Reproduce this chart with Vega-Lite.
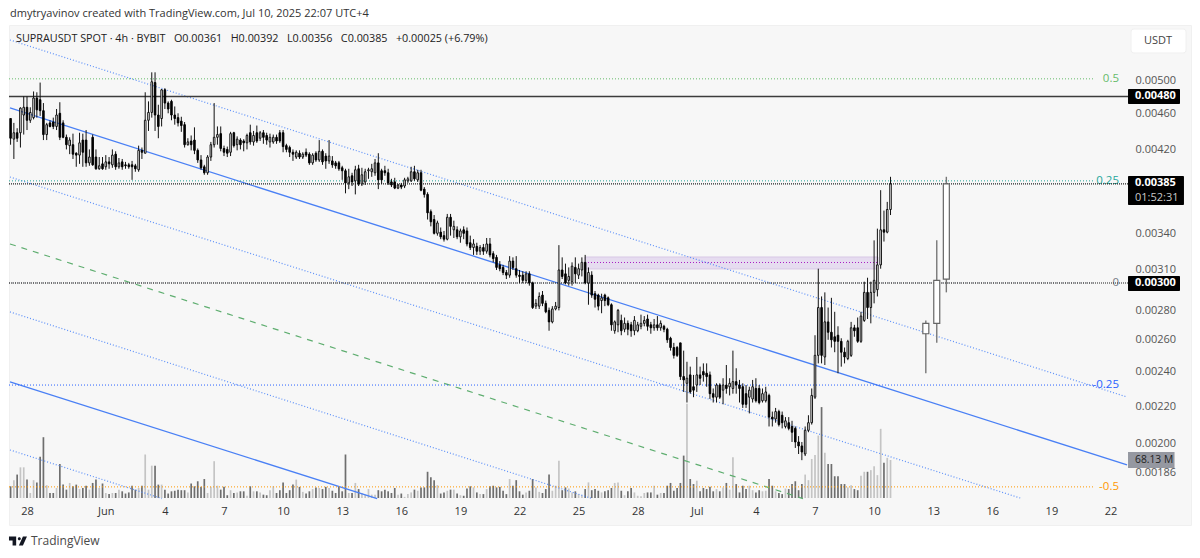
{"$schema":"https://vega.github.io/schema/vega-lite/v6.json","width":1182,"height":500,"autosize":"none","padding":{"left":9,"top":25,"right":9,"bottom":33},"background":"#ffffff","config":{"view":{"fill":"#f7f7f7","stroke":"#f0f0f0"},"font":"Open Sans"},
"datasets":{"candles":[
{"t":"2025-05-27T04:00Z","o":0.00454,"h":0.00454,"l":0.00425,"c":0.00432,"v":21},
{"t":"2025-05-27T08:00Z","o":0.00431,"h":0.00449,"l":0.0041,"c":0.00438,"v":32},
{"t":"2025-05-27T12:00Z","o":0.00438,"h":0.00443,"l":0.00428,"c":0.00432,"v":42},
{"t":"2025-05-27T16:00Z","o":0.00438,"h":0.00467,"l":0.00422,"c":0.00466,"v":55},
{"t":"2025-05-27T20:00Z","o":0.00458,"h":0.0048,"l":0.00436,"c":0.00467,"v":55},
{"t":"2025-05-28T00:00Z","o":0.00467,"h":0.0048,"l":0.00441,"c":0.00452,"v":33},
{"t":"2025-05-28T04:00Z","o":0.00452,"h":0.00467,"l":0.00449,"c":0.00461,"v":9},
{"t":"2025-05-28T08:00Z","o":0.00455,"h":0.00486,"l":0.00453,"c":0.00478,"v":32},
{"t":"2025-05-28T12:00Z","o":0.00478,"h":0.00485,"l":0.00455,"c":0.00464,"v":28},
{"t":"2025-05-28T16:00Z","o":0.00476,"h":0.00497,"l":0.00457,"c":0.00463,"v":74},
{"t":"2025-05-28T20:00Z","o":0.00463,"h":0.00472,"l":0.0043,"c":0.00436,"v":109},
{"t":"2025-05-29T00:00Z","o":0.00436,"h":0.00449,"l":0.0043,"c":0.00447,"v":23},
{"t":"2025-05-29T04:00Z","o":0.00449,"h":0.00452,"l":0.00444,"c":0.00445,"v":9},
{"t":"2025-05-29T08:00Z","o":0.0045,"h":0.00455,"l":0.00442,"c":0.00445,"v":9},
{"t":"2025-05-29T12:00Z","o":0.00445,"h":0.00465,"l":0.00441,"c":0.00458,"v":18},
{"t":"2025-05-29T16:00Z","o":0.0046,"h":0.00473,"l":0.0043,"c":0.00433,"v":61},
{"t":"2025-05-29T20:00Z","o":0.00449,"h":0.00452,"l":0.00432,"c":0.00433,"v":24},
{"t":"2025-05-30T00:00Z","o":0.00433,"h":0.00436,"l":0.0042,"c":0.00425,"v":15},
{"t":"2025-05-30T04:00Z","o":0.00424,"h":0.00433,"l":0.00415,"c":0.0043,"v":27},
{"t":"2025-05-30T08:00Z","o":0.00425,"h":0.00437,"l":0.0041,"c":0.00415,"v":21},
{"t":"2025-05-30T12:00Z","o":0.00416,"h":0.00417,"l":0.00402,"c":0.00414,"v":24},
{"t":"2025-05-30T16:00Z","o":0.00414,"h":0.00438,"l":0.00405,"c":0.00427,"v":16},
{"t":"2025-05-30T20:00Z","o":0.0043,"h":0.00437,"l":0.00402,"c":0.00417,"v":18},
{"t":"2025-05-31T00:00Z","o":0.0043,"h":0.00441,"l":0.00402,"c":0.00406,"v":22},
{"t":"2025-05-31T04:00Z","o":0.00406,"h":0.0042,"l":0.00403,"c":0.00412,"v":15},
{"t":"2025-05-31T08:00Z","o":0.00433,"h":0.00436,"l":0.00403,"c":0.00404,"v":27},
{"t":"2025-05-31T12:00Z","o":0.00412,"h":0.0042,"l":0.00399,"c":0.004,"v":33},
{"t":"2025-05-31T16:00Z","o":0.004,"h":0.00412,"l":0.00399,"c":0.00403,"v":18},
{"t":"2025-05-31T20:00Z","o":0.00405,"h":0.00412,"l":0.00399,"c":0.004,"v":26},
{"t":"2025-06-01T00:00Z","o":0.00402,"h":0.00414,"l":0.00399,"c":0.00407,"v":9},
{"t":"2025-06-01T04:00Z","o":0.00407,"h":0.00412,"l":0.004,"c":0.00405,"v":7},
{"t":"2025-06-01T08:00Z","o":0.00404,"h":0.0042,"l":0.00401,"c":0.00414,"v":9},
{"t":"2025-06-01T12:00Z","o":0.00415,"h":0.00418,"l":0.00399,"c":0.00402,"v":9},
{"t":"2025-06-01T16:00Z","o":0.00402,"h":0.00411,"l":0.004,"c":0.00406,"v":15},
{"t":"2025-06-01T20:00Z","o":0.00407,"h":0.0041,"l":0.00399,"c":0.00402,"v":12},
{"t":"2025-06-02T00:00Z","o":0.00404,"h":0.00407,"l":0.004,"c":0.00403,"v":8},
{"t":"2025-06-02T04:00Z","o":0.00404,"h":0.00406,"l":0.004,"c":0.00402,"v":10},
{"t":"2025-06-02T08:00Z","o":0.00404,"h":0.00408,"l":0.00389,"c":0.00402,"v":22},
{"t":"2025-06-02T12:00Z","o":0.00403,"h":0.00405,"l":0.00397,"c":0.004,"v":15},
{"t":"2025-06-02T16:00Z","o":0.00399,"h":0.00424,"l":0.00397,"c":0.00419,"v":18},
{"t":"2025-06-02T20:00Z","o":0.00419,"h":0.00422,"l":0.0041,"c":0.00417,"v":22},
{"t":"2025-06-03T00:00Z","o":0.00416,"h":0.00485,"l":0.00416,"c":0.00452,"v":78},
{"t":"2025-06-03T04:00Z","o":0.00452,"h":0.00474,"l":0.0044,"c":0.00461,"v":15},
{"t":"2025-06-03T08:00Z","o":0.00461,"h":0.0051,"l":0.00455,"c":0.00498,"v":58},
{"t":"2025-06-03T12:00Z","o":0.00497,"h":0.0051,"l":0.0044,"c":0.00458,"v":58},
{"t":"2025-06-03T16:00Z","o":0.00458,"h":0.0047,"l":0.00432,"c":0.00445,"v":24},
{"t":"2025-06-03T20:00Z","o":0.00454,"h":0.00489,"l":0.00445,"c":0.00488,"v":24},
{"t":"2025-06-04T00:00Z","o":0.00488,"h":0.0049,"l":0.00465,"c":0.00472,"v":15},
{"t":"2025-06-04T04:00Z","o":0.00472,"h":0.00474,"l":0.0046,"c":0.00465,"v":8},
{"t":"2025-06-04T08:00Z","o":0.00474,"h":0.00476,"l":0.00452,"c":0.00458,"v":12},
{"t":"2025-06-04T12:00Z","o":0.00458,"h":0.00468,"l":0.00447,"c":0.00454,"v":13},
{"t":"2025-06-04T16:00Z","o":0.00455,"h":0.0046,"l":0.00445,"c":0.00449,"v":15},
{"t":"2025-06-04T20:00Z","o":0.00451,"h":0.00456,"l":0.00439,"c":0.00446,"v":14},
{"t":"2025-06-05T00:00Z","o":0.00447,"h":0.0045,"l":0.00422,"c":0.00425,"v":14},
{"t":"2025-06-05T04:00Z","o":0.00425,"h":0.00432,"l":0.00424,"c":0.00428,"v":10},
{"t":"2025-06-05T08:00Z","o":0.00429,"h":0.00435,"l":0.00419,"c":0.00425,"v":26},
{"t":"2025-06-05T12:00Z","o":0.0043,"h":0.00444,"l":0.00415,"c":0.00419,"v":21},
{"t":"2025-06-05T16:00Z","o":0.00419,"h":0.00421,"l":0.00406,"c":0.00409,"v":30},
{"t":"2025-06-05T20:00Z","o":0.00409,"h":0.00414,"l":0.00399,"c":0.00401,"v":20},
{"t":"2025-06-06T00:00Z","o":0.00402,"h":0.00404,"l":0.00394,"c":0.00396,"v":34},
{"t":"2025-06-06T04:00Z","o":0.00396,"h":0.00414,"l":0.00394,"c":0.00412,"v":9},
{"t":"2025-06-06T08:00Z","o":0.00412,"h":0.00428,"l":0.00408,"c":0.00425,"v":20},
{"t":"2025-06-06T12:00Z","o":0.00425,"h":0.00472,"l":0.00422,"c":0.00433,"v":66},
{"t":"2025-06-06T16:00Z","o":0.00433,"h":0.00445,"l":0.00425,"c":0.00436,"v":22},
{"t":"2025-06-06T20:00Z","o":0.00437,"h":0.00445,"l":0.00418,"c":0.00421,"v":15},
{"t":"2025-06-07T00:00Z","o":0.00421,"h":0.00424,"l":0.00413,"c":0.00417,"v":20},
{"t":"2025-06-07T04:00Z","o":0.0042,"h":0.00423,"l":0.00412,"c":0.00416,"v":5},
{"t":"2025-06-07T08:00Z","o":0.00417,"h":0.00439,"l":0.00413,"c":0.00437,"v":14},
{"t":"2025-06-07T12:00Z","o":0.00438,"h":0.00439,"l":0.00422,"c":0.00424,"v":9},
{"t":"2025-06-07T16:00Z","o":0.00425,"h":0.00434,"l":0.00419,"c":0.00431,"v":10},
{"t":"2025-06-07T20:00Z","o":0.0043,"h":0.00432,"l":0.0042,"c":0.00425,"v":12},
{"t":"2025-06-08T00:00Z","o":0.00429,"h":0.00431,"l":0.00418,"c":0.00427,"v":12},
{"t":"2025-06-08T04:00Z","o":0.00427,"h":0.00437,"l":0.0042,"c":0.00435,"v":4},
{"t":"2025-06-08T08:00Z","o":0.00438,"h":0.00447,"l":0.00425,"c":0.00428,"v":21},
{"t":"2025-06-08T12:00Z","o":0.00428,"h":0.0044,"l":0.00424,"c":0.00435,"v":12},
{"t":"2025-06-08T16:00Z","o":0.00438,"h":0.00446,"l":0.00427,"c":0.00429,"v":12},
{"t":"2025-06-08T20:00Z","o":0.00432,"h":0.0044,"l":0.00429,"c":0.00438,"v":10},
{"t":"2025-06-09T00:00Z","o":0.00438,"h":0.00441,"l":0.00426,"c":0.00433,"v":6},
{"t":"2025-06-09T04:00Z","o":0.00435,"h":0.00438,"l":0.00425,"c":0.0043,"v":5},
{"t":"2025-06-09T08:00Z","o":0.00428,"h":0.00437,"l":0.00422,"c":0.00433,"v":14},
{"t":"2025-06-09T12:00Z","o":0.00428,"h":0.00436,"l":0.00426,"c":0.00433,"v":21},
{"t":"2025-06-09T16:00Z","o":0.00433,"h":0.00436,"l":0.00426,"c":0.00429,"v":9},
{"t":"2025-06-09T20:00Z","o":0.00438,"h":0.00441,"l":0.00427,"c":0.00429,"v":14},
{"t":"2025-06-10T00:00Z","o":0.00438,"h":0.00441,"l":0.00417,"c":0.00423,"v":28},
{"t":"2025-06-10T04:00Z","o":0.00424,"h":0.00426,"l":0.00417,"c":0.0042,"v":9},
{"t":"2025-06-10T08:00Z","o":0.00422,"h":0.00424,"l":0.00412,"c":0.00417,"v":14},
{"t":"2025-06-10T12:00Z","o":0.00417,"h":0.0042,"l":0.00408,"c":0.00415,"v":24},
{"t":"2025-06-10T16:00Z","o":0.00412,"h":0.00419,"l":0.0041,"c":0.00417,"v":33},
{"t":"2025-06-10T20:00Z","o":0.00416,"h":0.00419,"l":0.0041,"c":0.00412,"v":20},
{"t":"2025-06-11T00:00Z","o":0.00412,"h":0.00417,"l":0.0041,"c":0.00415,"v":11},
{"t":"2025-06-11T04:00Z","o":0.00417,"h":0.00421,"l":0.00412,"c":0.00414,"v":8},
{"t":"2025-06-11T08:00Z","o":0.00415,"h":0.00417,"l":0.00404,"c":0.00406,"v":12},
{"t":"2025-06-11T12:00Z","o":0.00406,"h":0.00416,"l":0.00404,"c":0.00414,"v":16},
{"t":"2025-06-11T16:00Z","o":0.00416,"h":0.00418,"l":0.00407,"c":0.00409,"v":19},
{"t":"2025-06-11T20:00Z","o":0.00409,"h":0.0043,"l":0.00407,"c":0.00418,"v":18},
{"t":"2025-06-12T00:00Z","o":0.00418,"h":0.0042,"l":0.00404,"c":0.00407,"v":16},
{"t":"2025-06-12T04:00Z","o":0.00413,"h":0.00416,"l":0.004,"c":0.00408,"v":20},
{"t":"2025-06-12T08:00Z","o":0.00408,"h":0.0043,"l":0.00405,"c":0.00413,"v":18},
{"t":"2025-06-12T12:00Z","o":0.00408,"h":0.00413,"l":0.00401,"c":0.00404,"v":13},
{"t":"2025-06-12T16:00Z","o":0.00406,"h":0.00408,"l":0.004,"c":0.00403,"v":9},
{"t":"2025-06-12T20:00Z","o":0.00406,"h":0.00408,"l":0.00398,"c":0.004,"v":20},
{"t":"2025-06-13T00:00Z","o":0.00401,"h":0.00403,"l":0.00389,"c":0.00398,"v":12},
{"t":"2025-06-13T04:00Z","o":0.00398,"h":0.004,"l":0.00376,"c":0.00386,"v":78},
{"t":"2025-06-13T08:00Z","o":0.00386,"h":0.004,"l":0.0038,"c":0.00392,"v":9},
{"t":"2025-06-13T12:00Z","o":0.00393,"h":0.00396,"l":0.00383,"c":0.00387,"v":9},
{"t":"2025-06-13T16:00Z","o":0.00388,"h":0.00403,"l":0.00375,"c":0.00399,"v":27},
{"t":"2025-06-13T20:00Z","o":0.004,"h":0.00404,"l":0.00383,"c":0.00385,"v":16},
{"t":"2025-06-14T00:00Z","o":0.00385,"h":0.00401,"l":0.00383,"c":0.00394,"v":9},
{"t":"2025-06-14T04:00Z","o":0.00387,"h":0.004,"l":0.00384,"c":0.00397,"v":6},
{"t":"2025-06-14T08:00Z","o":0.00398,"h":0.00401,"l":0.0039,"c":0.00399,"v":16},
{"t":"2025-06-14T12:00Z","o":0.00397,"h":0.00405,"l":0.00392,"c":0.004,"v":6},
{"t":"2025-06-14T16:00Z","o":0.00396,"h":0.0041,"l":0.00393,"c":0.00406,"v":6},
{"t":"2025-06-14T20:00Z","o":0.00406,"h":0.00416,"l":0.0038,"c":0.00389,"v":14},
{"t":"2025-06-15T00:00Z","o":0.00398,"h":0.004,"l":0.00385,"c":0.00389,"v":12},
{"t":"2025-06-15T04:00Z","o":0.00398,"h":0.00403,"l":0.00393,"c":0.00396,"v":15},
{"t":"2025-06-15T08:00Z","o":0.00396,"h":0.004,"l":0.00384,"c":0.00386,"v":12},
{"t":"2025-06-15T12:00Z","o":0.00387,"h":0.0039,"l":0.00382,"c":0.00384,"v":9},
{"t":"2025-06-15T16:00Z","o":0.00387,"h":0.00391,"l":0.0038,"c":0.00381,"v":18},
{"t":"2025-06-15T20:00Z","o":0.00381,"h":0.00385,"l":0.0038,"c":0.00384,"v":6},
{"t":"2025-06-16T00:00Z","o":0.00384,"h":0.00386,"l":0.0038,"c":0.00382,"v":8},
{"t":"2025-06-16T04:00Z","o":0.00383,"h":0.00391,"l":0.00381,"c":0.00389,"v":2},
{"t":"2025-06-16T08:00Z","o":0.00388,"h":0.00392,"l":0.00386,"c":0.0039,"v":7},
{"t":"2025-06-16T12:00Z","o":0.00388,"h":0.00402,"l":0.00387,"c":0.00397,"v":10},
{"t":"2025-06-16T16:00Z","o":0.00397,"h":0.00403,"l":0.00388,"c":0.0039,"v":15},
{"t":"2025-06-16T20:00Z","o":0.00389,"h":0.00399,"l":0.00387,"c":0.00396,"v":13},
{"t":"2025-06-17T00:00Z","o":0.00396,"h":0.00399,"l":0.00378,"c":0.00379,"v":19},
{"t":"2025-06-17T04:00Z","o":0.0038,"h":0.00382,"l":0.00372,"c":0.00375,"v":19},
{"t":"2025-06-17T08:00Z","o":0.00375,"h":0.00377,"l":0.00352,"c":0.00358,"v":47},
{"t":"2025-06-17T12:00Z","o":0.00359,"h":0.00361,"l":0.00346,"c":0.0035,"v":37},
{"t":"2025-06-17T16:00Z","o":0.00352,"h":0.00356,"l":0.00339,"c":0.0034,"v":32},
{"t":"2025-06-17T20:00Z","o":0.0034,"h":0.00351,"l":0.00338,"c":0.00349,"v":23},
{"t":"2025-06-18T00:00Z","o":0.00341,"h":0.00345,"l":0.00335,"c":0.00337,"v":8},
{"t":"2025-06-18T04:00Z","o":0.00338,"h":0.00342,"l":0.00333,"c":0.00335,"v":10},
{"t":"2025-06-18T08:00Z","o":0.00335,"h":0.00357,"l":0.00334,"c":0.00354,"v":13},
{"t":"2025-06-18T12:00Z","o":0.00354,"h":0.00357,"l":0.00338,"c":0.00346,"v":15},
{"t":"2025-06-18T16:00Z","o":0.00343,"h":0.00351,"l":0.00336,"c":0.00346,"v":15},
{"t":"2025-06-18T20:00Z","o":0.00343,"h":0.00346,"l":0.00335,"c":0.00337,"v":8},
{"t":"2025-06-19T00:00Z","o":0.00337,"h":0.00344,"l":0.00332,"c":0.00342,"v":5},
{"t":"2025-06-19T04:00Z","o":0.00343,"h":0.00346,"l":0.00335,"c":0.0034,"v":4},
{"t":"2025-06-19T08:00Z","o":0.00342,"h":0.00345,"l":0.00329,"c":0.00331,"v":17},
{"t":"2025-06-19T12:00Z","o":0.00332,"h":0.00338,"l":0.00326,"c":0.00328,"v":21},
{"t":"2025-06-19T16:00Z","o":0.00328,"h":0.00335,"l":0.00322,"c":0.00331,"v":19},
{"t":"2025-06-19T20:00Z","o":0.00329,"h":0.00332,"l":0.00322,"c":0.00325,"v":10},
{"t":"2025-06-20T00:00Z","o":0.00325,"h":0.0033,"l":0.00322,"c":0.00328,"v":7},
{"t":"2025-06-20T04:00Z","o":0.00328,"h":0.00331,"l":0.00322,"c":0.00325,"v":7},
{"t":"2025-06-20T08:00Z","o":0.00325,"h":0.00336,"l":0.00323,"c":0.00331,"v":16},
{"t":"2025-06-20T12:00Z","o":0.00331,"h":0.00336,"l":0.0032,"c":0.00322,"v":21},
{"t":"2025-06-20T16:00Z","o":0.00323,"h":0.00325,"l":0.00316,"c":0.00319,"v":22},
{"t":"2025-06-20T20:00Z","o":0.0032,"h":0.00322,"l":0.0031,"c":0.00312,"v":19},
{"t":"2025-06-21T00:00Z","o":0.00314,"h":0.00317,"l":0.00309,"c":0.00311,"v":20},
{"t":"2025-06-21T04:00Z","o":0.00312,"h":0.00314,"l":0.00306,"c":0.00308,"v":13},
{"t":"2025-06-21T08:00Z","o":0.00308,"h":0.0031,"l":0.00303,"c":0.00306,"v":7},
{"t":"2025-06-21T12:00Z","o":0.00306,"h":0.00321,"l":0.00304,"c":0.00317,"v":34},
{"t":"2025-06-21T16:00Z","o":0.00317,"h":0.0032,"l":0.0031,"c":0.00312,"v":22},
{"t":"2025-06-21T20:00Z","o":0.00311,"h":0.00321,"l":0.00304,"c":0.00306,"v":32},
{"t":"2025-06-22T00:00Z","o":0.00306,"h":0.0031,"l":0.003,"c":0.00305,"v":12},
{"t":"2025-06-22T04:00Z","o":0.00306,"h":0.00309,"l":0.003,"c":0.00302,"v":6},
{"t":"2025-06-22T08:00Z","o":0.00302,"h":0.00309,"l":0.003,"c":0.00307,"v":10},
{"t":"2025-06-22T12:00Z","o":0.00307,"h":0.00309,"l":0.00298,"c":0.003,"v":13},
{"t":"2025-06-22T16:00Z","o":0.003,"h":0.00301,"l":0.00281,"c":0.00282,"v":34},
{"t":"2025-06-22T20:00Z","o":0.00283,"h":0.00288,"l":0.00281,"c":0.00285,"v":19},
{"t":"2025-06-23T00:00Z","o":0.00283,"h":0.00293,"l":0.00281,"c":0.0029,"v":11},
{"t":"2025-06-23T04:00Z","o":0.00291,"h":0.00294,"l":0.00283,"c":0.00285,"v":9},
{"t":"2025-06-23T08:00Z","o":0.00285,"h":0.00287,"l":0.00278,"c":0.00279,"v":16},
{"t":"2025-06-23T12:00Z","o":0.0028,"h":0.00282,"l":0.00266,"c":0.00272,"v":42},
{"t":"2025-06-23T16:00Z","o":0.00272,"h":0.00283,"l":0.00271,"c":0.00281,"v":13},
{"t":"2025-06-23T20:00Z","o":0.00281,"h":0.00286,"l":0.0028,"c":0.00283,"v":22},
{"t":"2025-06-24T00:00Z","o":0.00282,"h":0.0033,"l":0.0028,"c":0.0031,"v":67},
{"t":"2025-06-24T04:00Z","o":0.0031,"h":0.0032,"l":0.00303,"c":0.00305,"v":14},
{"t":"2025-06-24T08:00Z","o":0.00307,"h":0.00315,"l":0.00299,"c":0.003,"v":19},
{"t":"2025-06-24T12:00Z","o":0.00302,"h":0.00312,"l":0.00298,"c":0.00305,"v":17},
{"t":"2025-06-24T16:00Z","o":0.00301,"h":0.00316,"l":0.00298,"c":0.00313,"v":10},
{"t":"2025-06-24T20:00Z","o":0.00312,"h":0.0032,"l":0.003,"c":0.00307,"v":12},
{"t":"2025-06-25T00:00Z","o":0.00306,"h":0.00315,"l":0.00303,"c":0.00311,"v":7},
{"t":"2025-06-25T04:00Z","o":0.0031,"h":0.0032,"l":0.00305,"c":0.00316,"v":5},
{"t":"2025-06-25T08:00Z","o":0.00316,"h":0.00322,"l":0.00299,"c":0.003,"v":16},
{"t":"2025-06-25T12:00Z","o":0.003,"h":0.00312,"l":0.00284,"c":0.00308,"v":28},
{"t":"2025-06-25T16:00Z","o":0.00306,"h":0.00309,"l":0.00289,"c":0.00291,"v":14},
{"t":"2025-06-25T20:00Z","o":0.00292,"h":0.00294,"l":0.00282,"c":0.00288,"v":16},
{"t":"2025-06-26T00:00Z","o":0.00291,"h":0.00292,"l":0.0028,"c":0.00283,"v":13},
{"t":"2025-06-26T04:00Z","o":0.00287,"h":0.00292,"l":0.00278,"c":0.00289,"v":10},
{"t":"2025-06-26T08:00Z","o":0.00291,"h":0.00292,"l":0.00283,"c":0.00287,"v":12},
{"t":"2025-06-26T12:00Z","o":0.00289,"h":0.0029,"l":0.00283,"c":0.00284,"v":14},
{"t":"2025-06-26T16:00Z","o":0.00284,"h":0.00285,"l":0.00266,"c":0.0027,"v":18},
{"t":"2025-06-26T20:00Z","o":0.00266,"h":0.00273,"l":0.00264,"c":0.00272,"v":27},
{"t":"2025-06-27T00:00Z","o":0.0027,"h":0.00281,"l":0.00265,"c":0.0028,"v":28},
{"t":"2025-06-27T04:00Z","o":0.00273,"h":0.00277,"l":0.00263,"c":0.00266,"v":13},
{"t":"2025-06-27T08:00Z","o":0.00267,"h":0.00275,"l":0.00265,"c":0.00271,"v":5},
{"t":"2025-06-27T12:00Z","o":0.00271,"h":0.00273,"l":0.00263,"c":0.00267,"v":12},
{"t":"2025-06-27T16:00Z","o":0.0027,"h":0.00272,"l":0.00262,"c":0.00266,"v":18},
{"t":"2025-06-27T20:00Z","o":0.00266,"h":0.00276,"l":0.00263,"c":0.00273,"v":10},
{"t":"2025-06-28T00:00Z","o":0.00266,"h":0.00272,"l":0.00265,"c":0.0027,"v":4},
{"t":"2025-06-28T04:00Z","o":0.00269,"h":0.00277,"l":0.00267,"c":0.00271,"v":3},
{"t":"2025-06-28T08:00Z","o":0.00271,"h":0.00276,"l":0.00269,"c":0.00273,"v":9},
{"t":"2025-06-28T12:00Z","o":0.00274,"h":0.00277,"l":0.00266,"c":0.00269,"v":10},
{"t":"2025-06-28T16:00Z","o":0.0027,"h":0.00272,"l":0.00264,"c":0.00268,"v":10},
{"t":"2025-06-28T20:00Z","o":0.00268,"h":0.00274,"l":0.00266,"c":0.0027,"v":22},
{"t":"2025-06-29T00:00Z","o":0.0027,"h":0.00276,"l":0.00266,"c":0.00268,"v":6},
{"t":"2025-06-29T04:00Z","o":0.00268,"h":0.00273,"l":0.00266,"c":0.00271,"v":9},
{"t":"2025-06-29T08:00Z","o":0.00269,"h":0.0027,"l":0.00265,"c":0.00267,"v":9},
{"t":"2025-06-29T12:00Z","o":0.00267,"h":0.00268,"l":0.00258,"c":0.0026,"v":22},
{"t":"2025-06-29T16:00Z","o":0.00261,"h":0.00262,"l":0.00253,"c":0.00255,"v":27},
{"t":"2025-06-29T20:00Z","o":0.00255,"h":0.00258,"l":0.00248,"c":0.0025,"v":13},
{"t":"2025-06-30T00:00Z","o":0.00255,"h":0.00256,"l":0.00249,"c":0.0025,"v":18},
{"t":"2025-06-30T04:00Z","o":0.00258,"h":0.00258,"l":0.00235,"c":0.00237,"v":27},
{"t":"2025-06-30T08:00Z","o":0.00237,"h":0.00253,"l":0.00228,"c":0.00235,"v":76},
{"t":"2025-06-30T12:00Z","o":0.00233,"h":0.00246,"l":0.00222,"c":0.00236,"v":169},
{"t":"2025-06-30T16:00Z","o":0.00238,"h":0.00243,"l":0.00227,"c":0.00228,"v":34},
{"t":"2025-06-30T20:00Z","o":0.00231,"h":0.00238,"l":0.00225,"c":0.00229,"v":25},
{"t":"2025-07-01T00:00Z","o":0.00232,"h":0.00249,"l":0.00228,"c":0.00238,"v":31},
{"t":"2025-07-01T04:00Z","o":0.00238,"h":0.00243,"l":0.00232,"c":0.00236,"v":12},
{"t":"2025-07-01T08:00Z","o":0.0024,"h":0.00245,"l":0.00234,"c":0.00238,"v":18},
{"t":"2025-07-01T12:00Z","o":0.00239,"h":0.00245,"l":0.00231,"c":0.00237,"v":16},
{"t":"2025-07-01T16:00Z","o":0.00238,"h":0.0024,"l":0.00224,"c":0.00227,"v":20},
{"t":"2025-07-01T20:00Z","o":0.00227,"h":0.0023,"l":0.00222,"c":0.00225,"v":12},
{"t":"2025-07-02T00:00Z","o":0.00225,"h":0.00233,"l":0.00222,"c":0.00232,"v":16},
{"t":"2025-07-02T04:00Z","o":0.00232,"h":0.00233,"l":0.00224,"c":0.00225,"v":12},
{"t":"2025-07-02T08:00Z","o":0.00229,"h":0.00236,"l":0.00221,"c":0.00232,"v":19},
{"t":"2025-07-02T12:00Z","o":0.00232,"h":0.00244,"l":0.00227,"c":0.0023,"v":27},
{"t":"2025-07-02T16:00Z","o":0.00231,"h":0.00236,"l":0.00226,"c":0.00233,"v":15},
{"t":"2025-07-02T20:00Z","o":0.0023,"h":0.00253,"l":0.00227,"c":0.00234,"v":73},
{"t":"2025-07-03T00:00Z","o":0.00234,"h":0.00242,"l":0.00227,"c":0.00232,"v":25},
{"t":"2025-07-03T04:00Z","o":0.00232,"h":0.00235,"l":0.00222,"c":0.0023,"v":10},
{"t":"2025-07-03T08:00Z","o":0.00231,"h":0.00233,"l":0.00219,"c":0.00221,"v":22},
{"t":"2025-07-03T12:00Z","o":0.00227,"h":0.00232,"l":0.00219,"c":0.00221,"v":16},
{"t":"2025-07-03T16:00Z","o":0.00225,"h":0.00231,"l":0.00216,"c":0.00229,"v":22},
{"t":"2025-07-03T20:00Z","o":0.00224,"h":0.00235,"l":0.00222,"c":0.00231,"v":14},
{"t":"2025-07-04T00:00Z","o":0.0023,"h":0.00236,"l":0.00222,"c":0.00223,"v":10},
{"t":"2025-07-04T04:00Z","o":0.0023,"h":0.00232,"l":0.00221,"c":0.00222,"v":14},
{"t":"2025-07-04T08:00Z","o":0.00223,"h":0.0023,"l":0.00222,"c":0.00227,"v":12},
{"t":"2025-07-04T12:00Z","o":0.00223,"h":0.00231,"l":0.00222,"c":0.00228,"v":13},
{"t":"2025-07-04T16:00Z","o":0.00226,"h":0.00227,"l":0.00209,"c":0.00214,"v":34},
{"t":"2025-07-04T20:00Z","o":0.00214,"h":0.00217,"l":0.00209,"c":0.00213,"v":22},
{"t":"2025-07-05T00:00Z","o":0.00213,"h":0.00219,"l":0.00211,"c":0.00217,"v":12},
{"t":"2025-07-05T04:00Z","o":0.00217,"h":0.00218,"l":0.00209,"c":0.0021,"v":9},
{"t":"2025-07-05T08:00Z","o":0.00215,"h":0.00217,"l":0.00208,"c":0.00211,"v":7},
{"t":"2025-07-05T12:00Z","o":0.00209,"h":0.00214,"l":0.00208,"c":0.00212,"v":17},
{"t":"2025-07-05T16:00Z","o":0.00211,"h":0.00214,"l":0.00207,"c":0.00208,"v":16},
{"t":"2025-07-05T20:00Z","o":0.00209,"h":0.00212,"l":0.00201,"c":0.00206,"v":25},
{"t":"2025-07-06T00:00Z","o":0.00208,"h":0.00209,"l":0.00198,"c":0.00201,"v":30},
{"t":"2025-07-06T04:00Z","o":0.00201,"h":0.00204,"l":0.00195,"c":0.00199,"v":14},
{"t":"2025-07-06T08:00Z","o":0.00199,"h":0.00201,"l":0.00192,"c":0.00196,"v":25},
{"t":"2025-07-06T12:00Z","o":0.00195,"h":0.00209,"l":0.00194,"c":0.00207,"v":42},
{"t":"2025-07-06T16:00Z","o":0.00207,"h":0.00215,"l":0.00206,"c":0.00211,"v":32},
{"t":"2025-07-06T20:00Z","o":0.00211,"h":0.0023,"l":0.0021,"c":0.00226,"v":70},
{"t":"2025-07-07T00:00Z","o":0.00225,"h":0.00263,"l":0.00224,"c":0.0025,"v":77},
{"t":"2025-07-07T04:00Z","o":0.0025,"h":0.00311,"l":0.00245,"c":0.00282,"v":112},
{"t":"2025-07-07T08:00Z","o":0.00282,"h":0.0029,"l":0.00245,"c":0.0025,"v":163},
{"t":"2025-07-07T12:00Z","o":0.00249,"h":0.00293,"l":0.00244,"c":0.00272,"v":81},
{"t":"2025-07-07T16:00Z","o":0.00272,"h":0.00282,"l":0.0026,"c":0.00265,"v":61},
{"t":"2025-07-07T20:00Z","o":0.00265,"h":0.00289,"l":0.00255,"c":0.0026,"v":61},
{"t":"2025-07-08T00:00Z","o":0.00262,"h":0.00279,"l":0.00252,"c":0.00259,"v":39},
{"t":"2025-07-08T04:00Z","o":0.00263,"h":0.00269,"l":0.00239,"c":0.00259,"v":39},
{"t":"2025-07-08T08:00Z","o":0.00259,"h":0.00261,"l":0.00243,"c":0.00252,"v":25},
{"t":"2025-07-08T12:00Z","o":0.00252,"h":0.00255,"l":0.00245,"c":0.00249,"v":25},
{"t":"2025-07-08T16:00Z","o":0.00248,"h":0.0026,"l":0.00247,"c":0.00259,"v":19},
{"t":"2025-07-08T20:00Z","o":0.0025,"h":0.00272,"l":0.00249,"c":0.00268,"v":23},
{"t":"2025-07-09T00:00Z","o":0.00268,"h":0.0027,"l":0.00262,"c":0.00266,"v":16},
{"t":"2025-07-09T04:00Z","o":0.00268,"h":0.00275,"l":0.00258,"c":0.00259,"v":14},
{"t":"2025-07-09T08:00Z","o":0.00259,"h":0.00279,"l":0.00258,"c":0.00276,"v":40},
{"t":"2025-07-09T12:00Z","o":0.00273,"h":0.00301,"l":0.00272,"c":0.00293,"v":47},
{"t":"2025-07-09T16:00Z","o":0.00293,"h":0.00304,"l":0.00274,"c":0.00282,"v":47},
{"t":"2025-07-09T20:00Z","o":0.00282,"h":0.00301,"l":0.00271,"c":0.00293,"v":50},
{"t":"2025-07-10T00:00Z","o":0.00293,"h":0.00334,"l":0.00285,"c":0.00302,"v":57},
{"t":"2025-07-10T04:00Z","o":0.00295,"h":0.00344,"l":0.0029,"c":0.00314,"v":41},
{"t":"2025-07-10T08:00Z","o":0.00314,"h":0.00379,"l":0.00311,"c":0.00343,"v":124},
{"t":"2025-07-10T12:00Z","o":0.00343,"h":0.0036,"l":0.00333,"c":0.00341,"v":63},
{"t":"2025-07-10T16:00Z","o":0.00341,"h":0.00368,"l":0.0034,"c":0.00361,"v":72},
{"t":"2025-07-10T20:00Z","o":0.00361,"h":0.00392,"l":0.00356,"c":0.00385,"v":68.13}
],
"ghost":[
{"t":"2025-07-12T15:00Z","o":0.00264,"h":0.00273,"l":0.00239,"c":0.00271},
{"t":"2025-07-13T04:20Z","o":0.00271,"h":0.00334,"l":0.00258,"c":0.00302},
{"t":"2025-07-13T16:00Z","o":0.00303,"h":0.00392,"l":0.00293,"c":0.00385}
],
"solid":[
{"id":"upper","t":"2025-05-27T03:17Z","p":0.004662},{"id":"upper","t":"2025-07-22T20:09Z","p":0.001897},
{"id":"lower","t":"2025-05-27T03:17Z","p":0.002338},{"id":"lower","t":"2025-06-14T18:30Z","p":0.001743}
],
"dotted":[
{"id":"a","t":"2025-05-27T03:17Z","p":0.005533},{"id":"a","t":"2025-07-22T20:09Z","p":0.002251},
{"id":"b","t":"2025-05-27T03:17Z","p":0.003918},{"id":"b","t":"2025-07-17T12:00Z","p":0.001743},
{"id":"d","t":"2025-05-27T03:17Z","p":0.002789},{"id":"d","t":"2025-06-25T16:20Z","p":0.001743},
{"id":"f","t":"2025-05-27T03:17Z","p":0.00197},{"id":"f","t":"2025-06-03T20:24Z","p":0.001743}
],
"dashed":[{"t":"2025-05-27T03:17Z","p":0.00331},{"t":"2025-07-06T09:20Z","p":0.001743}],
"fibs":[
{"level":"0.5","t":"2025-05-27T02:04Z","t2":"2025-07-21T05:00Z","tl":"2025-07-22T10:20Z","p":0.005017},
{"level":"0.25","t":"2025-05-27T02:04Z","t2":"2025-07-21T05:00Z","tl":"2025-07-22T10:20Z","p":0.00388},
{"level":"0","t":"2025-05-27T02:04Z","t2":"2025-07-21T05:00Z","tl":"2025-07-22T10:20Z","p":0.003},
{"level":"-0.25","t":"2025-05-27T02:04Z","t2":"2025-07-21T05:00Z","tl":"2025-07-22T10:20Z","p":0.00232},
{"level":"-0.5","t":"2025-05-27T02:04Z","t2":"2025-07-21T05:00Z","tl":"2025-07-22T10:20Z","p":0.001795}
],
"tags":[
{"t":"2025-07-22T21:20Z","t2":"2025-07-25T12:40Z","p":0.00489,"p2":0.00471},
{"t":"2025-07-22T21:20Z","t2":"2025-07-25T17:30Z","p":0.003928,"p2":0.003651},
{"t":"2025-07-22T21:20Z","t2":"2025-07-25T12:40Z","p":0.003053,"p2":0.00294}
],
"tagText":[
{"t":"2025-07-23T05:50Z","p":0.0048,"label":"0.00480"},
{"t":"2025-07-23T05:50Z","p":0.003,"label":"0.00300"},
{"t":"2025-07-23T05:50Z","p":0.003857,"label":"0.00385"}
]},
"encoding":{"x":{"field":"t","type":"temporal","scale":{"type":"utc","domain":["2025-05-27T02:04Z","2025-07-26T02:04Z"],"padding":0},"axis":{"title":null,"orient":"bottom","offset":-20,"domain":false,"ticks":false,"grid":false,"labelPadding":0,"labelBaseline":"top","labelFontSize":11,"labelColor":"#333333","labelFont":"Open Sans","labelOverlap":false,"labelFlush":false,"values":["2025-05-28T00:00Z","2025-06-01T00:00Z","2025-06-04T00:00Z","2025-06-07T00:00Z","2025-06-10T00:00Z","2025-06-13T00:00Z","2025-06-16T00:00Z","2025-06-19T00:00Z","2025-06-22T00:00Z","2025-06-25T00:00Z","2025-06-28T00:00Z","2025-07-01T00:00Z","2025-07-04T00:00Z","2025-07-07T00:00Z","2025-07-10T00:00Z","2025-07-13T00:00Z","2025-07-16T00:00Z","2025-07-19T00:00Z","2025-07-22T00:00Z"],"labelExpr":"utcdate(datum.value)==1 ? utcFormat(datum.value,'%b') : utcFormat(datum.value,'%-d')"}}},
"layer":[
{"data":{"name":"candles"},"mark":{"type":"bar","size":1.7,"orient":"vertical"},"encoding":{"y":{"field":"v","type":"quantitative","scale":{"domain":[-48.4,848],"zero":false,"nice":false},"axis":null},"y2":{"datum":0},"color":{"condition":{"test":"datum.c>=datum.o","value":"#c4c4c4"},"value":"#6e6e6e"}}},
{"encoding":{"y":{"field":"p","type":"quantitative","scale":{"type":"log","domain":[0.0016307,0.0057457],"nice":false},"axis":{"title":null,"orient":"right","offset":-56,"domain":false,"ticks":false,"grid":false,"labelPadding":0,"labelFontSize":11,"labelColor":"#555555","labelFont":"Open Sans","labelOverlap":false,"values":[0.005,0.0046,0.0042,0.0034,0.0031,0.0028,0.0026,0.0024,0.0022,0.002,0.00186],"format":".5f"}}},
"layer":[
{"data":{"values":[{"t":"2025-06-25T07:48Z","t2":"2025-07-10T04:48Z","p":0.003203,"p2":0.003108}]},"mark":{"type":"rect","fill":"#e6dcf0","stroke":"#d8c8e6","strokeWidth":1},"encoding":{"x2":{"field":"t2"},"y2":{"field":"p2"}}},
{"data":{"values":[{"t":"2025-06-25T07:48Z","t2":"2025-07-10T04:48Z","p":0.003159}]},"mark":{"type":"rule","color":"#a81fc4","strokeWidth":1,"strokeDash":[1,2]},"encoding":{"x2":{"field":"t2"}}},
{"data":{"name":"solid"},"mark":{"type":"line","color":"#4a80f5","strokeWidth":1.3},"encoding":{"detail":{"field":"id"}}},
{"data":{"name":"dotted"},"mark":{"type":"line","color":"#5b8ff9","strokeWidth":1.2,"strokeDash":[1,2]},"encoding":{"detail":{"field":"id"}}},
{"data":{"name":"dashed"},"mark":{"type":"line","color":"#5fae70","strokeWidth":1.2,"strokeDash":[6,6]}},
{"data":{"name":"fibs"},"mark":{"type":"rule","strokeWidth":1,"strokeDash":[1,2]},"encoding":{"x2":{"field":"t2"},"color":{"field":"level","type":"nominal","legend":null,"scale":{"domain":["0.5","0.25","0","-0.25","-0.5"],"range":["#66bb6a","#26a69a","#787b86","#2962ff","#ff9800"]}}}},
{"data":{"name":"fibs"},"mark":{"type":"text","align":"right","baseline":"middle","fontSize":11.5,"font":"Open Sans"},"encoding":{"x":{"field":"tl","type":"temporal"},"text":{"field":"level"},"color":{"field":"level","type":"nominal","legend":null}}},
{"data":{"values":[{"t":"2025-05-27T02:04Z","t2":"2025-07-22T21:20Z","p":0.0048}]},"mark":{"type":"rule","color":"#3c3c3c","strokeWidth":1.5},"encoding":{"x2":{"field":"t2"}}},
{"data":{"values":[{"t":"2025-05-27T02:04Z","t2":"2025-07-22T21:20Z","p":0.003},{"t":"2025-05-27T02:04Z","t2":"2025-07-22T21:20Z","p":0.00385}]},"mark":{"type":"rule","color":"#222222","strokeWidth":1.2,"strokeDash":[1,1]},"encoding":{"x2":{"field":"t2"}}},
{"data":{"name":"candles"},"mark":{"type":"rule","color":"#111111","strokeWidth":1},"encoding":{"y":{"field":"l","type":"quantitative"},"y2":{"field":"h"}}},
{"data":{"name":"candles"},"mark":{"type":"bar","size":1.6,"orient":"vertical","stroke":"#000000","strokeWidth":0.9},"encoding":{"y":{"field":"o","type":"quantitative"},"y2":{"field":"c"},"fill":{"condition":{"test":"datum.c>=datum.o","value":"#ffffff"},"value":"#000000"}}},
{"data":{"name":"ghost"},"mark":{"type":"rule","color":"#777777","strokeWidth":1.4},"encoding":{"y":{"field":"l","type":"quantitative"},"y2":{"field":"h"}}},
{"data":{"name":"ghost"},"mark":{"type":"bar","size":6,"orient":"vertical","fill":"#ffffff","stroke":"#666666","strokeWidth":1.2},"encoding":{"y":{"field":"o","type":"quantitative"},"y2":{"field":"c"}}},
{"data":{"name":"tags"},"mark":{"type":"rect","fill":"#000000","cornerRadius":1},"encoding":{"x2":{"field":"t2"},"y2":{"field":"p2"}}},
{"data":{"values":[{"t":"2025-07-22T21:20Z","t2":"2025-07-25T06:00Z","p":0.00196,"p2":0.001883}]},"mark":{"type":"rect","fill":"#9598a1"},"encoding":{"x2":{"field":"t2"},"y2":{"field":"p2"}}},
{"data":{"values":[{"t":"2025-07-23T01:00Z","t2":"2025-07-25T20:00Z","p":0.005688,"p2":0.005355}]},"mark":{"type":"rect","fill":"#ffffff","stroke":"#f0f0f0","cornerRadius":3},"encoding":{"x2":{"field":"t2"},"y2":{"field":"p2"}}},
{"data":{"name":"tagText"},"mark":{"type":"text","align":"left","baseline":"middle","fontSize":11,"font":"Open Sans","fontWeight":"bold","color":"#ffffff"},"encoding":{"text":{"field":"label"}}},
{"data":{"values":[{"t":"2025-07-23T05:50Z","p":0.003716,"label":"01:52:31"}]},"mark":{"type":"text","align":"left","baseline":"middle","fontSize":11,"font":"Open Sans","color":"#c8c8c8"},"encoding":{"text":{"field":"label"}}},
{"data":{"values":[{"t":"2025-07-23T05:50Z","p":0.001921,"label":"68.13 M"}]},"mark":{"type":"text","align":"left","baseline":"middle","fontSize":10.3,"font":"Open Sans","color":"#222222"},"encoding":{"text":{"field":"label"}}},
{"data":{"values":[{"t":"2025-07-24T10:00Z","p":0.005518,"label":"USDT"}]},"mark":{"type":"text","align":"center","baseline":"middle","fontSize":11,"font":"Open Sans","color":"#444444"},"encoding":{"text":{"field":"label"}}},
{"data":{"values":[{"t":"2025-05-27T10:36Z","p":0.005547,"label":"SUPRAUSDT SPOT · 4h · BYBIT\u00a0\u00a0\u00a0O0.00361\u00a0\u00a0\u00a0H0.00392\u00a0\u00a0\u00a0L0.00356\u00a0\u00a0\u00a0C0.00385\u00a0\u00a0\u00a0+0.00025 (+6.79%)"}]},"mark":{"type":"text","align":"left","baseline":"middle","fontSize":10.8,"font":"Open Sans","color":"#222222"},"encoding":{"text":{"field":"label"}}},
{"data":{"values":[{"t":"2025-05-27T03:17Z","p":0.005907,"label":"dmytryavinov created with TradingView.com, Jul 10, 2025 22:07 UTC+4"}]},"mark":{"type":"text","align":"left","baseline":"middle","fontSize":11,"font":"Open Sans","color":"#333333"},"encoding":{"text":{"field":"label"}}},
{"data":{"values":[{"t":"2025-05-28T04:52Z","p":0.001566,"label":"TradingView"}]},"mark":{"type":"text","align":"left","baseline":"middle","fontSize":12,"font":"Open Sans","color":"#4a4a4a"},"encoding":{"text":{"field":"label"}}},
{"data":{"values":[{"t":"2025-05-27T13:00Z","p":0.001566}]},"mark":{"type":"point","filled":true,"opacity":1,"size":324,"color":"#131722","shape":"M-1 -.5H-.2V.5H-.6V-.05H-1ZM-.02 -.25A.17 .17 0 1 0 .32 -.25A.17 .17 0 1 0 -.02 -.25ZM.55 -.5H1L.55 .5H.1Z"}}
]}
],
"resolve":{"scale":{"y":"independent","color":"independent"}}
}
